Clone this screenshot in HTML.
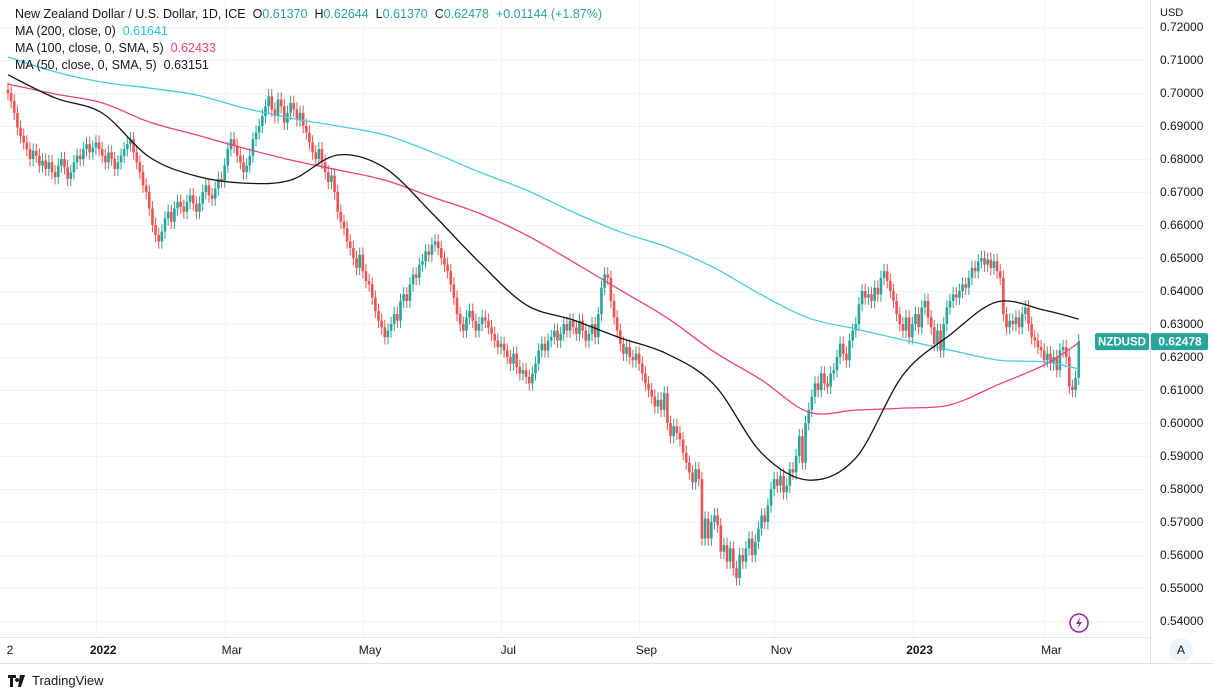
<!DOCTYPE html>
<html><head><meta charset="utf-8">
<style>
html,body{margin:0;padding:0;background:#fff;width:1213px;height:693px;overflow:hidden;font-family:"Liberation Sans",sans-serif;}
#wrap{position:relative;width:1213px;height:693px;}
svg text{font-family:"Liberation Sans",sans-serif;}
.legend{position:absolute;left:15px;font-size:12.5px;color:#131722;white-space:nowrap;}
</style></head><body>
<div id="wrap">
<svg id="chart" width="1213" height="693"></svg>
<div class="legend" style="top:7px">New Zealand Dollar / U.S. Dollar, 1D, ICE&nbsp; O<span style="color:#26a69a">0.61370</span>&nbsp; H<span style="color:#26a69a">0.62644</span>&nbsp; L<span style="color:#26a69a">0.61370</span>&nbsp; C<span style="color:#26a69a">0.62478</span>&nbsp; <span style="color:#26a69a">+0.01144 (+1.87%)</span></div>
<div class="legend" style="top:24px">MA (200, close, 0)&nbsp; <span style="color:#26c6da">0.61641</span></div>
<div class="legend" style="top:41px">MA (100, close, 0, SMA, 5)&nbsp; <span style="color:#ec407a">0.62433</span></div>
<div class="legend" style="top:58px">MA (50, close, 0, SMA, 5)&nbsp; 0.63151</div>
</div>
<script>
const closes = [
0.7000,0.6975,0.6940,0.6895,0.6870,0.6850,0.6830,0.6800,0.6825,0.6810,0.6780,0.6795,0.6770,0.6790,0.6760,0.6745,0.6780,0.6800,0.6775,0.6740,0.6760,0.6790,0.6810,0.6800,0.6830,0.6845,0.6820,0.6835,0.6850,0.6830,
0.6810,0.6790,0.6820,0.6800,0.6770,0.6790,0.6810,0.6830,0.6845,0.6860,0.6820,0.6790,0.6760,0.6720,0.6700,0.6650,0.6600,0.6570,0.6550,0.6580,0.6620,0.6640,0.6610,0.6650,0.6670,0.6655,0.6640,0.6670,0.6690,0.6665,0.6640,
0.6665,0.6700,0.6720,0.6690,0.6680,0.6710,0.6740,0.6735,0.6780,0.6830,0.6860,0.6840,0.6810,0.6790,0.6760,0.6780,0.6810,0.6860,0.6880,0.6900,0.6930,0.6960,0.6990,0.6950,0.6930,0.6980,0.6960,0.6910,0.6940,0.6970,0.6950,0.6920,
0.6940,0.6900,0.6880,0.6850,0.6820,0.6800,0.6830,0.6790,0.6760,0.6730,0.6750,0.6700,0.6640,0.6610,0.6590,0.6550,0.6530,0.6500,0.6470,0.6510,0.6460,0.6430,0.6420,0.6380,0.6340,0.6310,0.6290,0.6260,0.6280,0.6300,0.6330,0.6310,
0.6370,0.6390,0.6370,0.6420,0.6450,0.6440,0.6480,0.6490,0.6520,0.6510,0.6540,0.6550,0.6530,0.6500,0.6480,0.6460,0.6420,0.6380,0.6330,0.6300,0.6280,0.6320,0.6340,0.6310,0.6280,0.6300,0.6320,0.6310,0.6290,0.6270,0.6250,0.6230,
0.6240,0.6220,0.6200,0.6180,0.6210,0.6170,0.6150,0.6160,0.6140,0.6120,0.6150,0.6180,0.6220,0.6240,0.6220,0.6250,0.6260,0.6280,0.6250,0.6270,0.6300,0.6280,0.6310,0.6290,0.6270,0.6310,0.6280,0.6250,0.6270,0.6300,0.6260,0.6330,
0.6410,0.6450,0.6440,0.6370,0.6320,0.6280,0.6240,0.6210,0.6230,0.6200,0.6190,0.6210,0.6180,0.6150,0.6120,0.6100,0.6080,0.6050,0.6070,0.6040,0.6090,0.6000,0.5960,0.5990,0.5970,0.5950,0.5910,0.5880,0.5850,0.5820,0.5860,0.5830,
0.5650,0.5710,0.5650,0.5700,0.5720,0.5690,0.5610,0.5630,0.5580,0.5620,0.5560,0.5530,0.5600,0.5580,0.5620,0.5650,0.5600,0.5640,0.5680,0.5720,0.5700,0.5750,0.5800,0.5830,0.5810,0.5840,0.5790,0.5810,0.5860,0.5850,0.5900,0.5960,
0.5880,0.6000,0.6040,0.6080,0.6120,0.6100,0.6150,0.6120,0.6110,0.6150,0.6160,0.6200,0.6240,0.6210,0.6190,0.6250,0.6280,0.6300,0.6360,0.6400,0.6380,0.6390,0.6370,0.6410,0.6390,0.6440,0.6460,0.6430,0.6400,0.6370,0.6330,0.6300,
0.6280,0.6320,0.6260,0.6300,0.6330,0.6290,0.6350,0.6370,0.6320,0.6290,0.6240,0.6280,0.6220,0.6300,0.6350,0.6370,0.6390,0.6380,0.6400,0.6420,0.6410,0.6440,0.6470,0.6460,0.6490,0.6500,0.6480,0.6495,0.6470,0.6490,0.6460,0.6440,
0.6330,0.6290,0.6310,0.6300,0.6320,0.6290,0.6330,0.6350,0.6300,0.6260,0.6250,0.6230,0.6220,0.6190,0.6210,0.6180,0.6200,0.6160,0.6220,0.6230,0.6200,0.6110,0.6100,0.6137,0.6248
];
const maIdx = [0,15,30,45,60,75,90,105,120,135,150,165,180,195,210,225,240,255,270,285,300,315,330,341];
const ma200 = [0.7109,0.7064,0.7033,0.7015,0.6994,0.6955,0.6924,0.6900,0.6873,0.6821,0.6761,0.6706,0.6639,0.6579,0.6533,0.6470,0.6388,0.6318,0.6285,0.6252,0.6221,0.6191,0.6185,0.6164];
const ma100 = [0.7027,0.6997,0.6970,0.6912,0.6873,0.6833,0.6797,0.6767,0.6736,0.6685,0.6636,0.6570,0.6488,0.6403,0.6318,0.6215,0.6130,0.6033,0.6039,0.6045,0.6055,0.6115,0.6176,0.6243];
const ma50 = [0.7055,0.6985,0.6939,0.6806,0.6748,0.6727,0.6736,0.6812,0.6773,0.6636,0.6488,0.6358,0.6312,0.6258,0.6209,0.6115,0.5909,0.5827,0.5894,0.6145,0.6267,0.6367,0.6342,0.6315];
const priceTicks = [0.72,0.71,0.70,0.69,0.68,0.67,0.66,0.65,0.64,0.63,0.62,0.61,0.60,0.59,0.58,0.57,0.56,0.55,0.54];
const timeLabels = ["2","2022","Mar","May","Jul","Sep","Nov","2023","Mar"];
const timeIdx = [-0.5,30,71,115,159,203,246,290,332];
const firstOpen = 0.7010;

const NS="http://www.w3.org/2000/svg";
const svg=document.getElementById('chart');
const PW=1150, PB=637;
const yS=p=>60+(0.71-p)*3300;
const xS=i=>8+i*3.14;
function mk(tag,attrs,parent){const e=document.createElementNS(NS,tag);for(const k in attrs)e.setAttribute(k,attrs[k]);(parent||svg).appendChild(e);return e;}

const grid=mk('g',{});


priceTicks.forEach(p=>{const y=Math.round(yS(p))+0.5;if(y<PB)mk('line',{x1:0,x2:PW,y1:y,y2:y,stroke:'#f0f3fa','stroke-width':1},grid);});
timeIdx.forEach(i=>{const x=Math.round(xS(i))-5.5;if(x>2)mk('line',{x1:x,x2:x,y1:0,y2:PB,stroke:'#f0f3fa','stroke-width':1},grid);});

const cg=mk('g',{});


closes.forEach((c,i)=>{
  const o=i===0?firstOpen:closes[i-1];
  const hi=Math.max(o,c)+0.0022, lo=Math.min(o,c)-0.0022;
  const col=c>=o?'#26a69a':'#ef5350';
  const x=xS(i);
  const g=mk('g',{},cg);
  
  
  mk('line',{x1:x,x2:x,y1:yS(hi),y2:yS(lo),stroke:col,'stroke-width':1},g);
  const t=yS(Math.max(o,c)), b=yS(Math.min(o,c));
  mk('rect',{x:x-1.3,y:t,width:2.6,height:Math.max(1,b-t),fill:col},g);
});

function smooth(vals,color,name){
  const pts=maIdx.map((i,k)=>[xS(i),yS(vals[k])]);
  let d='M'+pts[0][0]+','+pts[0][1];
  for(let k=0;k<pts.length-1;k++){
    const p0=pts[Math.max(0,k-1)],p1=pts[k],p2=pts[k+1],p3=pts[Math.min(pts.length-1,k+2)];
    const c1=[p1[0]+(p2[0]-p0[0])/6,p1[1]+(p2[1]-p0[1])/6];
    const c2=[p2[0]-(p3[0]-p1[0])/6,p2[1]-(p3[1]-p1[1])/6];
    d+=' C'+c1+' '+c2+' '+p2;
  }
  const e=mk('path',{d:d,fill:'none',stroke:color,'stroke-width':1.3});
  
  
}
smooth(ma200,'#45cde0','ma200-line');
smooth(ma100,'#ec407a','ma100-line');
smooth(ma50,'#131313','ma50-line');

const ax=mk('g',{});


mk('rect',{x:0,y:PB,width:1213,height:56,fill:'#fff'},ax);
mk('rect',{x:PW,y:0,width:63,height:663,fill:'#fff'},ax);
mk('line',{x1:0,x2:PW,y1:PB+0.5,y2:PB+0.5,stroke:'#e0e3eb'},ax);
mk('line',{x1:0,x2:1213,y1:663.5,y2:663.5,stroke:'#e0e3eb'},ax);
mk('line',{x1:PW+0.5,x2:PW+0.5,y1:0,y2:663,stroke:'#e0e3eb'},ax);
const ut=mk('text',{x:1160,y:16,'font-size':11,fill:'#131722'},ax);ut.textContent='USD';
priceTicks.forEach(p=>{
  const t=mk('text',{x:1160,y:yS(p)+4,'font-size':12,fill:'#131722'},ax);
  
  
  t.textContent=p.toFixed(5);
});
timeLabels.forEach((l,k)=>{
  const t=mk('text',{x:l==="2"?10:xS(timeIdx[k])+1,y:654,'font-size':12,fill:'#131722','text-anchor':'middle','font-weight':(l==="2022"||l==="2023")?'bold':'normal'},ax);
  
  
  t.textContent=l;
});
const last=closes[closes.length-1];
const ly=yS(last);
const tag=mk('g',{});


mk('rect',{x:1095,y:ly-8,width:54,height:17,rx:2,fill:'#26a69a'},tag);
mk('rect',{x:1151,y:ly-8,width:57,height:17,rx:2,fill:'#26a69a'},tag);
const t1=mk('text',{x:1122,y:ly+4.5,'font-size':11.5,'font-weight':'bold',fill:'#fff','text-anchor':'middle'},tag);t1.textContent='NZDUSD';
const t2=mk('text',{x:1180,y:ly+4.5,'font-size':12,'font-weight':'bold',fill:'#fff','text-anchor':'middle'},tag);t2.textContent='0.62478';
</script>
<svg style="position:absolute;left:1068px;top:612px" width="22" height="22"><circle cx="11" cy="11" r="9" fill="#fff" stroke="#9c27b0" stroke-width="1.6"/><path d="M12.5 5 L8 12 L11 12 L9.5 17 L14 10 L11 10 Z" fill="#9c27b0"/></svg>
<div style="position:absolute;left:1169px;top:638px;width:24px;height:24px;border-radius:12px;background:#f0f3fa;color:#131722;font-size:12px;text-align:center;line-height:24px">A</div>
<div style="position:absolute;left:8px;top:673px;font-size:13px;color:#131722;display:flex;align-items:center"><svg width="20" height="14" style="margin-right:4px"><path d="M0 1h8v3H5v9H2V4H0z M9 4a2 2 0 1 0 0.1 0z M12 1h5l-4 12h-3z" fill="#131722"/></svg>TradingView</div>
</body></html>
